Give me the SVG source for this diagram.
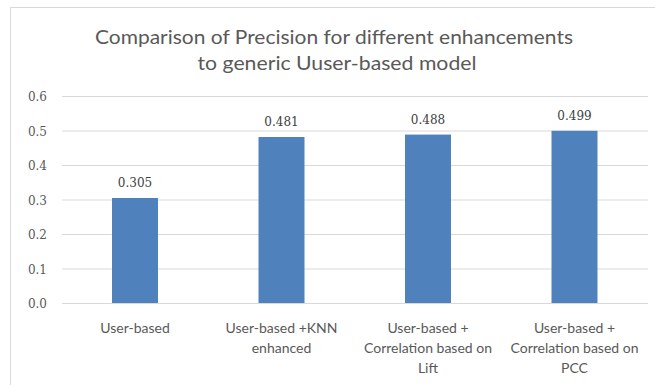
<svg xmlns="http://www.w3.org/2000/svg" width="655" height="385" viewBox="0 0 655 385">
<style>
.frame{fill:none;stroke:#d9d9d9;stroke-width:1}
.grid{stroke:#d9d9d9;stroke-width:1}
.bar{fill:#4f81bd}
.title{font-family:Lato,"Liberation Sans",sans-serif;font-size:20px;fill:#595959;text-anchor:middle}
.tick{font-family:"DejaVu Serif",serif;font-size:12px;fill:#595959;text-anchor:end}
.val{font-family:"DejaVu Serif",serif;font-size:12px;fill:#404040;text-anchor:middle}
.cat{font-family:Lato,"Liberation Sans",sans-serif;font-size:14px;fill:#595959;text-anchor:middle}
</style>
<rect width="655" height="385" fill="#ffffff"/>
<path class="frame" d="M10.5,385 V7.5 H655"/>
<g id="title">
<text class="title" x="334" y="44" textLength="478" lengthAdjust="spacingAndGlyphs">Comparison of Precision for different enhancements</text>
<text class="title" x="337" y="70" textLength="279" lengthAdjust="spacingAndGlyphs">to generic Uuser-based model</text>
</g>
<g id="gridlines">
<line class="grid" x1="62" y1="96.5" x2="648" y2="96.5"/>
<line class="grid" x1="62" y1="131" x2="648" y2="131"/>
<line class="grid" x1="62" y1="165.5" x2="648" y2="165.5"/>
<line class="grid" x1="62" y1="200" x2="648" y2="200"/>
<line class="grid" x1="62" y1="234.5" x2="648" y2="234.5"/>
<line class="grid" x1="62" y1="269" x2="648" y2="269"/>
<line class="grid" x1="62" y1="303.5" x2="648" y2="303.5"/>
</g>
<g id="y-axis">
<text class="tick" x="47" y="101">0.6</text>
<text class="tick" x="47" y="135.5">0.5</text>
<text class="tick" x="47" y="170">0.4</text>
<text class="tick" x="47" y="204.5">0.3</text>
<text class="tick" x="47" y="239">0.2</text>
<text class="tick" x="47" y="273.5">0.1</text>
<text class="tick" x="47" y="308">0.0</text>
</g>
<g id="bar-user-based">
<rect class="bar" x="112" y="198" width="46" height="105"/>
<text class="val" x="135" y="187">0.305</text>
<text class="cat" x="135" y="333">User-based</text>
</g>
<g id="bar-knn">
<rect class="bar" x="258.5" y="137" width="46" height="166"/>
<text class="val" x="281.5" y="126">0.481</text>
<text class="cat" x="281.5" y="333">User-based +KNN</text>
<text class="cat" x="281.5" y="353">enhanced</text>
</g>
<g id="bar-lift">
<rect class="bar" x="405" y="134.6" width="46" height="168.4"/>
<text class="val" x="428" y="123.5">0.488</text>
<text class="cat" x="428" y="333">User-based +</text>
<text class="cat" x="428" y="353">Correlation based on</text>
<text class="cat" x="428" y="373">Lift</text>
</g>
<g id="bar-pcc">
<rect class="bar" x="551.5" y="130.8" width="46" height="172.2"/>
<text class="val" x="574.5" y="120">0.499</text>
<text class="cat" x="574.5" y="333">User-based +</text>
<text class="cat" x="574.5" y="353">Correlation based on</text>
<text class="cat" x="574.5" y="373">PCC</text>
</g>
</svg>
